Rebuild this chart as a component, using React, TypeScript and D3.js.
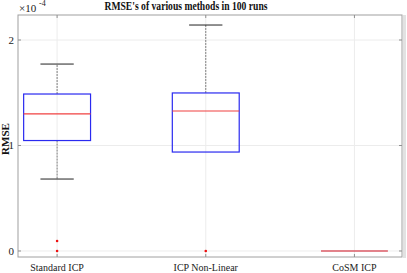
import React from "react";
import * as d3 from "d3";

const W = 407;
const H = 273;
const margin = { top: 15, right: 5, bottom: 16, left: 18 };

// values in units of 1e-4
const methods = ["Standard ICP", "ICP Non-Linear", "CoSM ICP"];
const q1 = [1.047, 0.938, 0];
const median = [1.299, 1.327, 0];
const q3 = [1.488, 1.498, 0];
const whiskerLow = [0.682, 0.938, 0];
const whiskerHigh = [1.772, 2.142, 0];
const outliers = [[0.095, 0], [0], []];
const yTicks = [0, 1, 2];

const x = d3
  .scaleLinear()
  .domain([0.737, 3.32])
  .range([margin.left, W - margin.right]);
const y = d3
  .scaleLinear()
  .domain([-0.057, 2.237])
  .range([H - margin.bottom, margin.top]);

const boxHalf = 0.225;
const capHalf = 0.112;
const font = "'Liberation Serif', 'Times New Roman', serif";

export default function App() {
  const [x0, x1] = x.range();
  const [y0, y1] = y.range();
  return (
    <svg
      width={W}
      height={H}
      style={{ position: "absolute", left: 0, top: 0, background: "#fff" }}
      fontFamily={font}
    >
      {/* grid */}
      <g stroke="#ececec" strokeWidth={1}>
        {methods.map((m, i) => (
          <line key={m} x1={x(i + 1)} x2={x(i + 1)} y1={y1} y2={y0} />
        ))}
        {yTicks.map((t) => (
          <line key={t} x1={x0} x2={x1} y1={y(t)} y2={y(t)} />
        ))}
      </g>

      {/* boxes */}
      {methods.map((m, i) => {
        const cx = x(i + 1);
        return (
          <g key={m}>
            {whiskerHigh[i] > q3[i] && (
              <line
                x1={cx}
                x2={cx}
                y1={y(q3[i])}
                y2={y(whiskerHigh[i])}
                stroke="#808080"
                strokeDasharray="2,1"
              />
            )}
            {whiskerLow[i] < q1[i] && (
              <line
                x1={cx}
                x2={cx}
                y1={y(q1[i])}
                y2={y(whiskerLow[i])}
                stroke="#808080"
                strokeDasharray="2,1"
              />
            )}
            {whiskerHigh[i] > q3[i] && (
              <line
                x1={x(i + 1 - capHalf)}
                x2={x(i + 1 + capHalf)}
                y1={y(whiskerHigh[i])}
                y2={y(whiskerHigh[i])}
                stroke="#222"
              />
            )}
            {whiskerLow[i] < q1[i] && (
              <line
                x1={x(i + 1 - capHalf)}
                x2={x(i + 1 + capHalf)}
                y1={y(whiskerLow[i])}
                y2={y(whiskerLow[i])}
                stroke="#222"
              />
            )}
            <rect
              x={x(i + 1 - boxHalf)}
              y={y(q3[i])}
              width={x(i + 1 + boxHalf) - x(i + 1 - boxHalf)}
              height={y(q1[i]) - y(q3[i])}
              fill="none"
              stroke="#2a2af0"
              strokeWidth={1.2}
            />
            <line
              x1={x(i + 1 - boxHalf)}
              x2={x(i + 1 + boxHalf)}
              y1={y(median[i])}
              y2={y(median[i])}
              stroke={q3[i] === q1[i] ? "#d01020" : "#f04040"}
              strokeWidth={1.2}
            />
            {outliers[i].map((o, j) => (
              <circle key={j} cx={cx} cy={y(o)} r={1.3} fill="#ee1010" />
            ))}
          </g>
        );
      })}

      {/* axes frame */}
      <rect x={x1 + 1} y={y1} width={3} height={y0 - y1 + 1} fill="#e2e2e2" />
      <rect
        x={x0}
        y={y1}
        width={x1 - x0}
        height={y0 - y1}
        fill="none"
        stroke="#a0a0a0"
        strokeWidth={1}
      />
      <g stroke="#909090">
        {yTicks.map((t) => (
          <g key={t}>
            <line x1={x0} x2={x0 + 3} y1={y(t)} y2={y(t)} />
            <line x1={x1 - 3} x2={x1} y1={y(t)} y2={y(t)} />
          </g>
        ))}
        {methods.map((m, i) => (
          <g key={m}>
            <line x1={x(i + 1)} x2={x(i + 1)} y1={y0} y2={y0 - 3} />
            <line x1={x(i + 1)} x2={x(i + 1)} y1={y1} y2={y1 + 3} />
          </g>
        ))}
      </g>

      {/* tick labels */}
      {yTicks.map((t) => (
        <text
          key={t}
          x={x0 - 4}
          y={y(t)}
          dy="0.35em"
          textAnchor="end"
          fontSize={11}
          fill="#222"
        >
          {t}
        </text>
      ))}
      {methods.map((m, i) => (
        <text
          key={m}
          x={x(i + 1)}
          y={H - 2}
          textAnchor="middle"
          fontSize={10}
          fill="#222"
        >
          {m}
        </text>
      ))}

      <text x={x0 + 1} y={12} fontSize={11} fill="#222">
        ×10
      </text>
      <text x={x0 + 21} y={6} fontSize={8} fill="#222">
        -4
      </text>

      <text
        x={(x0 + x1) / 2 - 24}
        y={9.5}
        textAnchor="middle"
        fontSize={11.5}
        fontWeight="bold"
        fill="#111"
        textLength={163}
        lengthAdjust="spacingAndGlyphs"
      >
        RMSE's of various methods in 100 runs
      </text>
      <text
        transform={`translate(9,${(y0 + y1) / 2 + 3}) rotate(-90)`}
        textAnchor="middle"
        fontSize={11}
        fontWeight="bold"
        fill="#111"
      >
        RMSE
      </text>
    </svg>
  );
}
